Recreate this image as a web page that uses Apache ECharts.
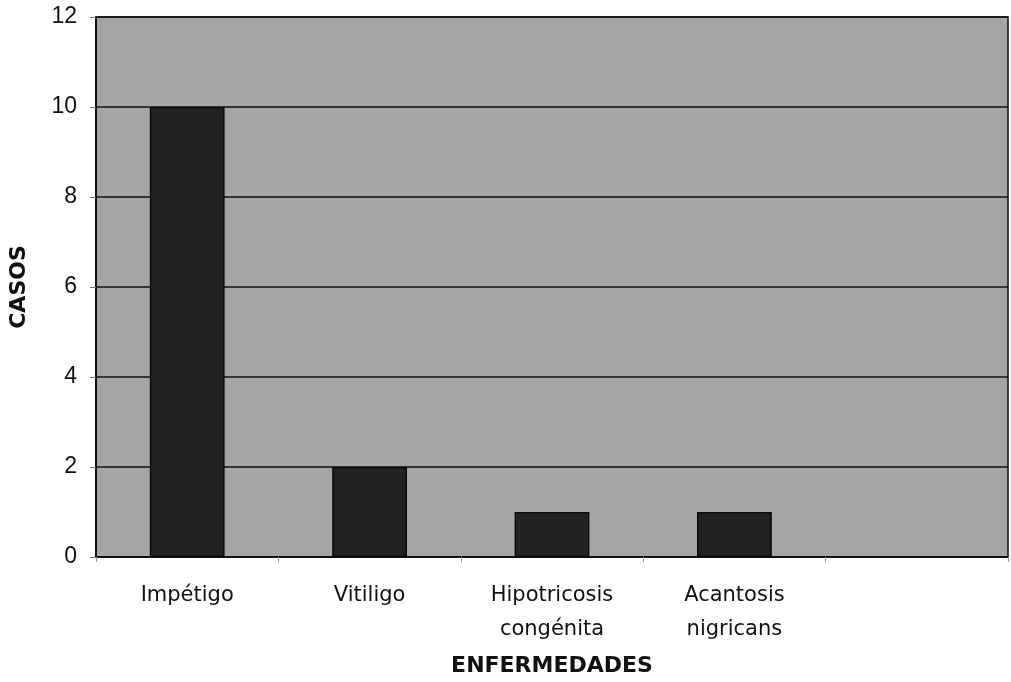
<!DOCTYPE html>
<html>
<head>
<meta charset="utf-8">
<script src="https://cdn.jsdelivr.net/npm/echarts@6/dist/echarts.min.js"></script>
<style>
html,body{margin:0;padding:0;background:#fff;}
#chart{width:1011px;height:682px;}
</style>
</head>
<body>
<div id="chart"></div>
<script>
const categories = ["Impétigo", "Vitiligo", "Hipotricosis\ncongénita", "Acantosis\nnigricans", ""];
const casos = [10, 2, 1, 1, null];
const yTicks = { min: 0, max: 12, interval: 2 };
const xTitle = "ENFERMEDADES";
const yTitle = "CASOS";

const chart = echarts.init(document.getElementById('chart'), null, { renderer: 'canvas' });
const font = "DejaVu Sans";
chart.setOption({
  animation: false,
  backgroundColor: '#ffffff',
  grid: {
    left: 92, right: 3, top: 17, bottom: 125,
    show: true,
    backgroundColor: '#a5a5a5',
    borderColor: '#111',
    borderWidth: 1.5
  },
  xAxis: {
    type: 'category',
    data: categories,
    name: xTitle,
    nameLocation: 'middle',
    nameGap: 98,
    nameTextStyle: { fontFamily: font, fontWeight: 'bold', fontSize: 22, color: '#111' },
    axisLine: { show: true, lineStyle: { color: '#111', width: 2 } },
    axisTick: { show: true, alignWithLabel: false, length: 5, lineStyle: { color: '#999' } },
    axisLabel: { fontFamily: font, fontSize: 21, color: '#111', margin: 22, lineHeight: 34, interval: 0 },
    splitLine: { show: false }
  },
  yAxis: {
    type: 'value',
    min: yTicks.min, max: yTicks.max, interval: yTicks.interval,
    name: yTitle,
    nameLocation: 'middle',
    nameGap: 66,
    nameTextStyle: { fontFamily: font, fontWeight: 'bold', fontSize: 22, color: '#111' },
    axisLine: { show: true, lineStyle: { color: '#111', width: 2 } },
    axisTick: { show: true, length: 6, lineStyle: { color: '#777' } },
    axisLabel: { fontFamily: 'Liberation Sans', fontSize: 23, color: '#111', margin: 19 },
    splitLine: { show: true, lineStyle: { color: '#111', width: 1.5 } }
  },
  series: [{
    type: 'bar',
    data: casos,
    barWidth: '41%',
    itemStyle: { color: '#222222', borderColor: '#0a0a0a', borderWidth: 1.5 }
  }]
});
</script>
</body>
</html>
